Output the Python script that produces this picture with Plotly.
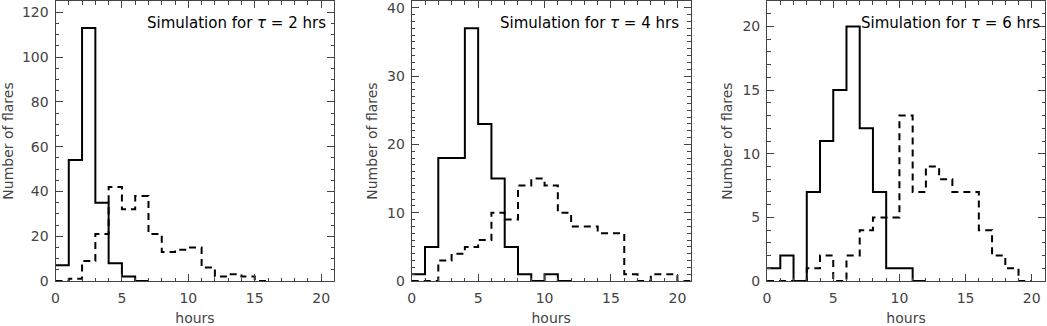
import plotly.graph_objects as go

# bin counts, 1-hour bins starting at 0
p1_solid = [7, 54, 113, 35, 8, 2, 0]
p1_dashed = [0, 1, 9, 21, 42, 32, 38, 21, 13, 14, 15, 6, 2, 3, 2, 0]
p2_solid = [1, 5, 18, 18, 37, 23, 15, 5, 1, 0, 1, 0]
p2_dashed = [0, 0, 3, 4, 5, 6, 10, 9, 14, 15, 14, 10, 8, 8, 7, 7, 1, 0, 1, 1, 0]
p3_solid = [1, 2, 0, 7, 11, 15, 20, 12, 7, 1, 1, 0]
p3_dashed = [0, 0, 0, 1, 2, 0, 2, 4, 5, 5, 13, 7, 9, 8, 7, 7, 4, 2, 1, 0]

taus = [2, 4, 6]
y_max = [125, 41, 22]
y_major = [20, 10, 5]
y_minor = [5, 1, 1]

W, H = 1047, 326
# panel pixel boxes (left, right)
boxes = [(51.7, 331.7), (409.3, 689.3), (766, 1045)]
top_px, bottom_px = 0, 288
text_right = [325, 680, 1042]


def steps(vals):
    x = list(range(len(vals) + 1))
    y = list(vals) + [vals[-1]]
    return x, y


fig = go.Figure()
panels = [(p1_solid, p1_dashed), (p2_solid, p2_dashed), (p3_solid, p3_dashed)]
axis_font = dict(family='DejaVu Sans, sans-serif', size=14, color='#444')

for i, (solid, dashed) in enumerate(panels):
    xa = 'x' if i == 0 else f'x{i + 1}'
    ya = 'y' if i == 0 else f'y{i + 1}'
    for vals, dash in [(dashed, '7px,5px'), (solid, 'solid')]:
        x, y = steps(vals)
        fig.add_trace(go.Scatter(
            x=x, y=y, xaxis=xa, yaxis=ya, mode='lines',
            line=dict(shape='hv', color='black', width=2, dash=dash),
            showlegend=False, hoverinfo='skip',
        ))

    l, r = boxes[i]
    common = dict(
        showline=True, linecolor='#444', linewidth=1, mirror='allticks',
        ticks='inside', ticklen=7, tickcolor='#444', tickwidth=1,
        showgrid=False, zeroline=False, tickfont=axis_font,
        ticklabeloverflow='allow',
    )
    fig.layout[f'xaxis{"" if i == 0 else i + 1}'] = dict(
        domain=[l / W, r / W], anchor=ya, range=[0, 21],
        tickmode='linear', tick0=0, dtick=5, ticklabelstandoff=4,
        minor=dict(ticks='inside', ticklen=3.5, tickcolor='#444', dtick=1, tick0=0, showgrid=False),
        title=dict(text='hours', font=axis_font, standoff=10),
        **common,
    )
    fig.layout[f'yaxis{"" if i == 0 else i + 1}'] = dict(
        domain=[1 - bottom_px / H, 1 - top_px / H], anchor=xa, range=[0, y_max[i]],
        tickmode='linear', tick0=0, dtick=y_major[i], ticklabelstandoff=3,
        minor=dict(ticks='inside', ticklen=3.5, tickcolor='#444', dtick=y_minor[i], tick0=0, showgrid=False),
        title=dict(text='Number of flares', font=axis_font, standoff=6),
        **common,
    )
    fig.add_annotation(
        text=f'Simulation for <i>τ</i> = {taus[i]} hrs',
        xref='paper', yref='paper', x=text_right[i] / W, y=1 - 23 / H,
        xanchor='right', yanchor='middle', showarrow=False,
        font=dict(family='DejaVu Sans, sans-serif', size=15, color='black'),
    )

fig.update_layout(
    width=W, height=H,
    margin=dict(l=0, r=0, t=0, b=0),
    plot_bgcolor='white', paper_bgcolor='white',
)

# drop the default body margin so the figure sits at the window origin
fig.write_html('out.html', config={'displayModeBar': False},
               post_script="document.body.style.margin='0';")
